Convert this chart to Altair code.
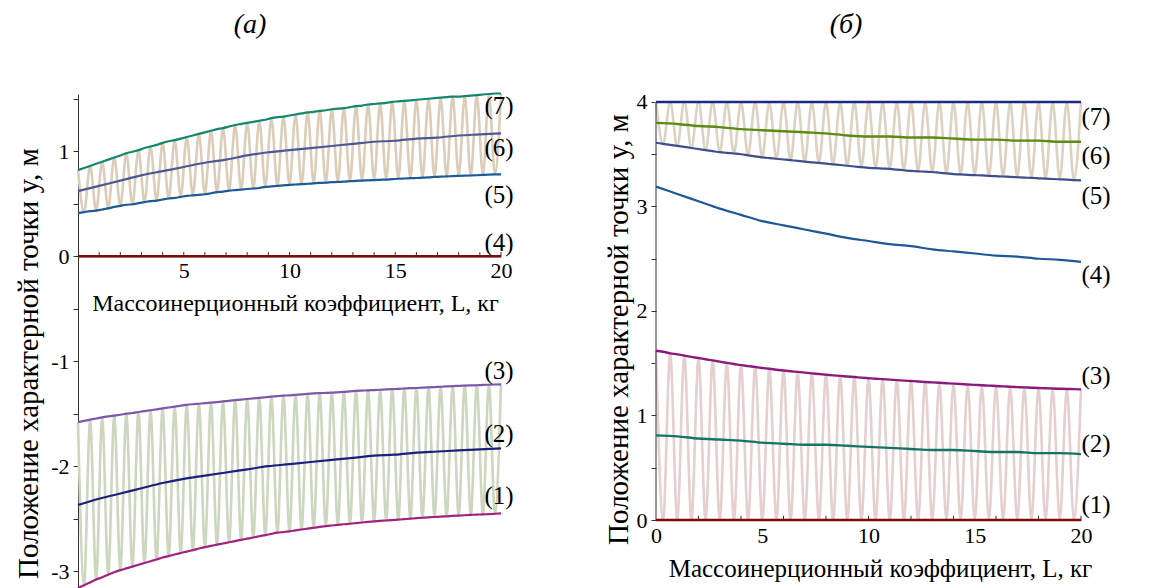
import altair as alt
import pandas as pd

# ---------------- data ----------------
x_coarse = list(range(0, 21))
# sample grids matching the oscillation half-periods of each panel
x_fine_a = [round(20 * i / 70, 4) for i in range(71)]   # (a): 35 periods
x_fine_b = [round(20 * i / 60, 4) for i in range(61)]   # (б): 30 periods

# panel (a) — fine curves
a7 = [0.82, 0.84, 0.86, 0.88, 0.90, 0.92, 0.94,
      0.96, 0.98, 0.995, 1.01, 1.03, 1.045, 1.06,
      1.08, 1.095, 1.105, 1.12, 1.135, 1.15, 1.165,
      1.18, 1.195, 1.21, 1.22, 1.235, 1.25, 1.26,
      1.27, 1.28, 1.29, 1.30, 1.315, 1.325, 1.33,
      1.34, 1.35, 1.36, 1.37, 1.375, 1.385, 1.39,
      1.40, 1.405, 1.41, 1.42, 1.43, 1.435, 1.445,
      1.45, 1.455, 1.46, 1.47, 1.475, 1.48, 1.485,
      1.49, 1.495, 1.50, 1.505, 1.51, 1.515, 1.52,
      1.52, 1.525, 1.53, 1.535, 1.54, 1.545, 1.55,
      1.55]
a5 = [0.41, 0.42, 0.43, 0.435, 0.445, 0.455, 0.47,
      0.48, 0.49, 0.495, 0.505, 0.515, 0.525, 0.53,
      0.54, 0.55, 0.555, 0.565, 0.575, 0.58, 0.585,
      0.59, 0.60, 0.61, 0.615, 0.625, 0.63, 0.635,
      0.64, 0.645, 0.65, 0.66, 0.665, 0.67, 0.675,
      0.68, 0.683, 0.686, 0.69, 0.694, 0.698, 0.70,
      0.705, 0.708, 0.71, 0.715, 0.718, 0.72, 0.723,
      0.725, 0.728, 0.73, 0.735, 0.738, 0.74, 0.743,
      0.745, 0.748, 0.75, 0.755, 0.758, 0.76, 0.763,
      0.765, 0.767, 0.769, 0.771, 0.774, 0.777, 0.779,
      0.78]
a3 = [-1.58, -1.568, -1.557, -1.546, -1.535, -1.526, -1.518,
      -1.51, -1.50, -1.493, -1.484, -1.475, -1.467, -1.458,
      -1.45, -1.441, -1.433, -1.424, -1.416, -1.41, -1.405,
      -1.40, -1.394, -1.389, -1.383, -1.377, -1.371, -1.366,
      -1.36, -1.354, -1.349, -1.343, -1.337, -1.332, -1.328,
      -1.325, -1.32, -1.316, -1.311, -1.307, -1.304, -1.302,
      -1.30, -1.296, -1.292, -1.287, -1.283, -1.28, -1.277,
      -1.275, -1.272, -1.269, -1.266, -1.263, -1.26, -1.257,
      -1.255, -1.252, -1.249, -1.246, -1.243, -1.24, -1.237,
      -1.235, -1.233, -1.231, -1.229, -1.226, -1.224, -1.222,
      -1.22]
a1 = [-3.16, -3.133, -3.107, -3.08, -3.057, -3.033, -3.01,
      -2.99, -2.973, -2.956, -2.939, -2.922, -2.905, -2.888,
      -2.87, -2.856, -2.841, -2.827, -2.813, -2.799, -2.784,
      -2.77, -2.759, -2.747, -2.736, -2.724, -2.713, -2.701,
      -2.69, -2.679, -2.667, -2.656, -2.644, -2.633, -2.627,
      -2.62, -2.611, -2.603, -2.594, -2.586, -2.578, -2.571,
      -2.565, -2.559, -2.553, -2.548, -2.542, -2.536, -2.53,
      -2.525, -2.521, -2.517, -2.513, -2.508, -2.504, -2.5,
      -2.495, -2.491, -2.487, -2.484, -2.48, -2.477, -2.473,
      -2.47, -2.467, -2.464, -2.461, -2.459, -2.456, -2.453,
      -2.45]
# panel (a) — coarse curves
a6 = [0.62, 0.67, 0.72, 0.77, 0.81, 0.85, 0.89, 0.92, 0.96, 0.99, 1.01,
      1.03, 1.05, 1.07, 1.09, 1.10, 1.12, 1.13, 1.15, 1.16, 1.17]
a4 = [0.0] * 21
a2 = [-2.37, -2.31, -2.26, -2.21, -2.16, -2.12, -2.09, -2.06, -2.03, -2.00, -1.98,
      -1.96, -1.94, -1.92, -1.90, -1.89, -1.87, -1.86, -1.85, -1.84, -1.83]

# panel (б) — fine curves
b5 = [3.61, 3.60, 3.59, 3.58, 3.57, 3.56, 3.55, 3.54, 3.53, 3.52, 3.513, 3.507,
      3.50, 3.49, 3.48, 3.47, 3.463, 3.457, 3.45, 3.443, 3.437, 3.43, 3.423, 3.417,
      3.41, 3.403, 3.397, 3.39, 3.383, 3.377, 3.37, 3.367, 3.363, 3.36, 3.353, 3.347,
      3.34, 3.337, 3.333, 3.33, 3.323, 3.317, 3.31, 3.307, 3.303, 3.30, 3.297, 3.293,
      3.29, 3.287, 3.283, 3.28, 3.277, 3.273, 3.27, 3.267, 3.263, 3.26, 3.257, 3.253,
      3.25]
b3 = [1.62, 1.61, 1.595, 1.585, 1.573, 1.561, 1.55, 1.538, 1.527, 1.515, 1.504, 1.493,
      1.482, 1.473, 1.464, 1.455, 1.447, 1.438, 1.43, 1.423, 1.417, 1.41, 1.403, 1.397,
      1.39, 1.384, 1.379, 1.373, 1.368, 1.362, 1.357, 1.352, 1.348, 1.343, 1.339, 1.334,
      1.33, 1.326, 1.321, 1.317, 1.313, 1.309, 1.305, 1.301, 1.297, 1.293, 1.289, 1.286,
      1.282, 1.279, 1.275, 1.272, 1.269, 1.266, 1.263, 1.261, 1.258, 1.256, 1.254, 1.252,
      1.25]
b7_fine = [4.0] * 61
b1_fine = [0.0] * 61
# panel (б) — coarse curves
b7 = [4.0] * 21
b6 = [3.80, 3.79, 3.77, 3.76, 3.74, 3.73, 3.72, 3.71, 3.70, 3.68, 3.67,
      3.67, 3.66, 3.66, 3.65, 3.64, 3.64, 3.63, 3.63, 3.62, 3.62]
b4 = [3.19, 3.12, 3.05, 2.98, 2.92, 2.86, 2.82, 2.78, 2.74, 2.70, 2.67,
      2.64, 2.62, 2.59, 2.57, 2.55, 2.53, 2.52, 2.50, 2.49, 2.47]
b2 = [0.81, 0.80, 0.78, 0.77, 0.76, 0.74, 0.73, 0.72, 0.72, 0.71, 0.70,
      0.69, 0.68, 0.67, 0.67, 0.66, 0.65, 0.65, 0.64, 0.64, 0.63]
b1 = [0.0] * 21

labels = ["(1)", "(2)", "(3)", "(4)", "(5)", "(6)", "(7)"]
a_label_y = [-2.28, -1.69, -1.09, 0.13, 0.58, 1.03, 1.43]
b_label_y = [0.14, 0.725, 1.38, 2.34, 3.10, 3.48, 3.86]

x_tick_values = list(range(1, 21))

# ---------------- styling / layout ----------------
SERIF = "Liberation Serif, Times New Roman, Times, serif"
W_A, H_A = 423, 494
W_B, H_B = 425, 426
YDOM_A = [-3.16, 1.545]
YDOM_B = [0.0, 4.0765]
A_ZERO_OFFSET = -(0 - YDOM_A[0]) / (YDOM_A[1] - YDOM_A[0]) * H_A

for arr in (a7, a5, a3, a1):
    assert len(arr) == len(x_fine_a), len(arr)
for arr in (b5, b3):
    assert len(arr) == len(x_fine_b), len(arr)
for arr in (a6, a2, b6, b4, b2):
    assert len(arr) == len(x_coarse), len(arr)


def osc_vertices(hi, lo):
    # oscillation between two envelope curves: alternate upper / lower extremes
    return [hi[i] if i % 2 == 0 else lo[i] for i in range(len(hi))]


def panel(xsc, ysc, xaxis, yaxis, x_fine, bands, curves, label_y, tick_len, label_dx,
          extra_rule=None):
    X = lambda f: alt.X(f, scale=xsc, axis=xaxis)
    Y = lambda f: alt.Y(f, scale=ysc, axis=yaxis)
    tick_df = pd.DataFrame({"x": x_tick_values,
                            "y": [0.0] * len(x_tick_values),
                            "y2": [tick_len] * len(x_tick_values)})
    layers = [alt.Chart(tick_df).mark_rule(color="#333", strokeWidth=1).encode(
        x=X("x:Q"), y=Y("y:Q"), y2="y2:Q")]
    for hi, lo, col in bands:
        df = pd.DataFrame({"x": x_fine, "y": osc_vertices(hi, lo)})
        layers.append(alt.Chart(df).mark_line(color=col, strokeWidth=2.6, interpolate="monotone")
                      .encode(x=X("x:Q"), y=Y("y:Q")))
    if extra_rule is not None:
        layers.append(alt.Chart(pd.DataFrame(extra_rule)).mark_rule(color="#333", strokeWidth=1)
                      .encode(x=X("x:Q"), y=Y("y:Q"), y2="y2:Q"))
    for xs, ys, col, sw in curves:
        df = pd.DataFrame({"x": xs, "y": ys})
        layers.append(alt.Chart(df).mark_line(color=col, strokeWidth=sw, interpolate="monotone")
                      .encode(x=X("x:Q"), y=Y("y:Q")))
    lab_df = pd.DataFrame({"x": [20] * 7, "y": label_y, "t": labels})
    layers.append(alt.Chart(lab_df).mark_text(font=SERIF, fontSize=25, color="black", dx=label_dx,
                                              align="center", baseline="middle")
                  .encode(x=X("x:Q"), y=Y("y:Q"), text="t:N"))
    return layers


def axis_common():
    return dict(grid=False, domainColor="#333", tickColor="#333", labelColor="black",
                labelFont=SERIF, labelFontSize=22, titleFont=SERIF,
                titleFontWeight="normal", titleColor="black", labelOverlap=False,
                labelFlush=False, labelBound=False)


TITLE_X = "Массоинерционный коэффициент, L, кг"
TITLE_Y = "Положение характерной точки y, м"
LABEL_EXPR = "datum.value % 1 === 0 ? toString(datum.value) : ''"

# ---------- panel (a) ----------
xs_a = alt.Scale(domain=[0, 20], nice=False, zero=False)
ys_a = alt.Scale(domain=YDOM_A, nice=False, zero=False)
xa_axis = alt.Axis(values=[5, 10, 15, 20], ticks=False, domain=True, labelPadding=4,
                   offset=A_ZERO_OFFSET, title=TITLE_X, titleFontSize=24,
                   titleX=217, titleY=47, titleBaseline="middle", titleAlign="center",
                   **axis_common())
ya_axis = alt.Axis(values=[-3, -2.5, -2, -1.5, -1, -0.5, 0, 0.5, 1, 1.5], tickSize=5,
                   labelPadding=4, labelExpr=LABEL_EXPR,
                   title=TITLE_Y, titleAngle=270, titleFontSize=29,
                   titleX=-50, titleY=269, titleBaseline="middle", titleAlign="center",
                   **axis_common())
a_bands = [(a7, a5, "#dccdb9"), (a3, a1, "#cdd7bf")]
a_curves = [(x_fine_a, a7, "#15876c", 2.2), (x_coarse, a6, "#4a5996", 2.2),
            (x_fine_a, a5, "#1e5b96", 2.2), (x_coarse, a4, "#7d0a0a", 2.6),
            (x_fine_a, a3, "#7c57aa", 2.2), (x_coarse, a2, "#1b1f7d", 2.2),
            (x_fine_a, a1, "#a2227f", 2.2)]
a_layers = panel(xs_a, ys_a, xa_axis, ya_axis, x_fine_a, a_bands, a_curves, a_label_y, 0.04, -2)
a_title = alt.Chart(pd.DataFrame({"t": ["(а)"]})).mark_text(
    font=SERIF, fontSize=28, fontStyle="italic", color="black", align="center", baseline="middle"
).encode(x=alt.value(172), y=alt.value(-69), text="t:N")
anchor = alt.Chart(pd.DataFrame({"t": [0]})).mark_point(opacity=0, size=1, filled=True).encode(
    x=alt.value(-77), y=alt.value(-93))
left = alt.layer(*a_layers, a_title, anchor).properties(width=W_A, height=H_A)

# ---------- panel (б) ----------
xs_b = alt.Scale(domain=[0, 20], nice=False, zero=False)
ys_b = alt.Scale(domain=YDOM_B, nice=False, zero=False)
xb_axis = alt.Axis(values=[0, 5, 10, 15, 20], ticks=False, domain=True, labelPadding=5,
                   title=TITLE_X, titleFontSize=25,
                   titleX=224, titleY=48, titleBaseline="middle", titleAlign="center",
                   **axis_common())
yb_axis = alt.Axis(values=[0, 0.5, 1, 1.5, 2, 2.5, 3, 3.5, 4], tickSize=5, domain=False,
                   labelPadding=4, labelExpr=LABEL_EXPR,
                   title=TITLE_Y, titleAngle=270, titleFontSize=29,
                   titleX=-38, titleY=235, titleBaseline="middle", titleAlign="center",
                   **axis_common())
b_bands = [(b7_fine, b5, "#ddd1c1"), (b3, b1_fine, "#e6cfcf")]
b_curves = [(x_coarse, b7, "#1d2a7e", 2.4), (x_coarse, b6, "#5b8b12", 2.4),
            (x_fine_b, b5, "#3e4f8d", 2.2), (x_coarse, b4, "#1f5896", 2.2),
            (x_fine_b, b3, "#8a1b7d", 2.4), (x_coarse, b2, "#127566", 2.4),
            (x_coarse, b1, "#7d0a0a", 2.6)]
b_layers = panel(xs_b, ys_b, xb_axis, yb_axis, x_fine_b, b_bands, b_curves, b_label_y, 0.04, 15,
                 extra_rule={"x": [0], "y": [0.0], "y2": [4.0]})
b_title = alt.Chart(pd.DataFrame({"t": ["(б)"]})).mark_text(
    font=SERIF, fontSize=28, fontStyle="italic", color="black", align="center", baseline="middle"
).encode(x=alt.value(190), y=alt.value(-69), text="t:N")
right = alt.layer(*b_layers, b_title).properties(width=W_B, height=H_B)

chart = alt.hconcat(left, right, spacing=155, bounds="flush").properties(
    padding=0, background="white"
).configure_view(stroke=None)

chart.save("out.html", embed_options={"renderer": "svg", "actions": False})
